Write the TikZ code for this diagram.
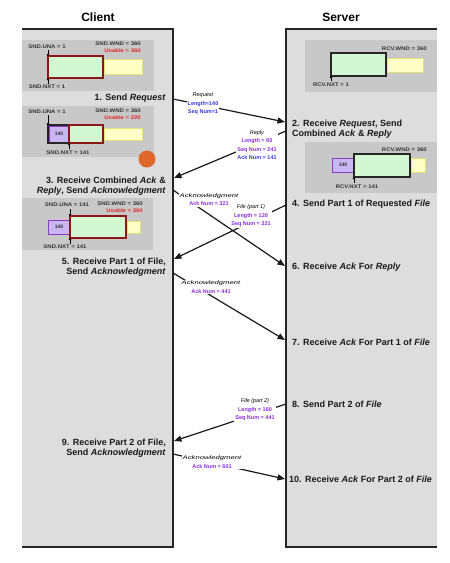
\documentclass[tikz,border=0pt]{standalone}
\usepackage{fontspec}
\setmainfont{Liberation Sans}
\newfontfamily\widefont[FakeStretch=1.15]{Liberation Sans}
\newfontfamily\widerfont[FakeStretch=1.45]{Liberation Sans}
\usetikzlibrary{arrows.meta}
\definecolor{panel}{HTML}{DDDDDD}
\definecolor{wingray}{HTML}{C8C8C8}
\definecolor{wgreen}{HTML}{D2F7D2}
\definecolor{wyellow}{HTML}{FFFFC6}
\definecolor{wyellowb}{HTML}{E2E27A}
\definecolor{wpurple}{HTML}{C9B6F2}
\definecolor{wpurpleb}{HTML}{8A3CC8}
\definecolor{wred}{HTML}{8C1616}
\definecolor{usable}{HTML}{E02424}
\definecolor{msgblue}{HTML}{3838DC}
\definecolor{msgpurple}{HTML}{8C2CE0}
\definecolor{cursor}{HTML}{E0672C}
\tikzset{
  panelline/.style={line width=1.6pt, black!85},
  greenbox/.style={fill=wgreen, draw=wred, line width=1.6pt},
  greenboxk/.style={fill=wgreen, draw=black!85, line width=1.6pt},
  blackbox/.style={draw=black!85, line width=1.6pt},
  yellowbox/.style={fill=wyellow, draw=wyellowb, line width=0.6pt},
  purplebox/.style={fill=wpurple, draw=wpurpleb, line width=1pt},
  winlbl/.style={font=\widefont\fontsize{5.2}{6}\selectfont\bfseries, text=black!80, inner sep=0pt},
  uslbl/.style={winlbl, text=usable},
  numlbl/.style={font=\fontsize{5}{6}\selectfont\bfseries, text=black!80, inner sep=0pt},
  titlelbl/.style={font=\fontsize{12}{14}\selectfont\bfseries, inner sep=0pt},
  steplbl/.style={font=\fontsize{9}{10}\selectfont\bfseries, inner sep=0pt, text=black!90},
  csteplbl/.style={steplbl, anchor=east, align=right},
  ssteplbl/.style={steplbl, anchor=west, align=left},
  msglbl/.style={font=\fontsize{5.5}{8.5}\selectfont, fill=white, inner sep=1pt, align=center},
  msg/.style={line width=1.2pt, black!90, -{Triangle[length=7.5pt,width=6pt]}},
  ptr/.style={line width=0.6pt, -{Triangle[length=2pt,width=2.6pt]}},
}
\newcommand{\ackword}{{\widerfont\fontsize{5.3}{8.5}\selectfont\itshape Acknowledgment}}
\begin{document}
\begin{tikzpicture}[x=1pt,y=-1pt]
\useasboundingbox[fill=white] (0,0) rectangle (450,563);
% titles
\node[titlelbl] (tclient) at (98,17) {Client};
\node[titlelbl] (tserver) at (341,17) {Server};
% panels
\fill[panel] (22,29) rectangle (173,547);
\fill[panel] (286,29) rectangle (437,547);
\draw[panelline] (22,29) -- (173,29) -- (173,547) -- (22,547);
\draw[panelline] (437,29) -- (286,29) -- (286,547) -- (437,547);

% ---------- client window 1
\fill[wingray] (22,40) rectangle (154,91);
\node[winlbl] (una1) at (47,47) {SND.UNA = 1};
\node[winlbl, anchor=east] (wnd1) at (141,44) {SND.WND = 360};
\node[uslbl, anchor=east] (us1) at (141,51) {Usable = 360};
\draw[greenbox] (48,56) rectangle (103,78);
\draw[yellowbox] (104.5,59) rectangle (142,74);
\draw[ptr] (48,50) -- (48,56);
\draw[ptr] (48,84) -- (48,78);
\node[winlbl] (nxt1) at (47,87) {SND.NXT = 1};

% ---------- client window 2
\fill[wingray] (22,106) rectangle (154,157);
\node[winlbl] (una2) at (47,112) {SND.UNA = 1};
\node[winlbl, anchor=east] (wnd2) at (141,111) {SND.WND = 360};
\node[uslbl, anchor=east] (us2) at (141,118) {Usable = 220};
\draw[purplebox] (49,126) rectangle (69,142);
\node[numlbl] (n2) at (59,134) {140};
\draw[blackbox] (48,125) rectangle (69,143);
\draw[greenbox] (69,125) rectangle (103,143);
\draw[yellowbox] (104.5,128) rectangle (142,140);
\draw[ptr] (48,115) -- (48,125);
\draw[ptr] (69,149) -- (69,143);
\node[winlbl] (nxt2) at (68,153) {SND.NXT = 141};

% ---------- client window 3
\fill[wingray] (22,198) rectangle (153,250);
\node[winlbl] (una3) at (67,205) {SND.UNA = 141};
\node[winlbl, anchor=east] (wnd3) at (143,204) {SND.WND = 360};
\node[uslbl, anchor=east] (us3) at (143,211) {Usable = 360};
\draw[purplebox] (48,220) rectangle (70,234);
\node[numlbl] (n3) at (59,227) {140};
\draw[greenbox] (70,216) rectangle (126,238);
\draw[yellowbox] (127,221) rectangle (140,233);
\draw[ptr] (70,209) -- (70,216);
\draw[ptr] (70,244) -- (70,238);
\node[winlbl] (nxt3) at (65,247) {SND.NXT = 141};

% ---------- server window 1
\fill[wingray] (305,40) rectangle (437,92);
\node[winlbl, anchor=east] (rwnd1) at (427,49) {RCV.WND = 360};
\draw[greenboxk] (331,53) rectangle (386,76);
\draw[yellowbox] (387,58) rectangle (423,72);
\draw[ptr] (331,81) -- (331,76);
\node[winlbl] (rnxt1) at (331,85) {RCV.NXT = 1};

% ---------- server window 2
\fill[wingray] (305,142) rectangle (437,193);
\node[winlbl, anchor=east] (rwnd2) at (427,150) {RCV.WND = 360};
\draw[purplebox] (332,158) rectangle (354,172);
\node[numlbl] (rn2) at (343,165) {140};
\draw[greenboxk] (354,154) rectangle (410,177);
\draw[yellowbox] (411,158) rectangle (425,172);
\draw[ptr] (354,183) -- (354,177);
\node[winlbl] (rnxt2) at (357,187) {RCV.NXT = 141};

% cursor highlight
\fill[cursor] (147,159) circle (8.5);

% ---------- step labels
\node[csteplbl] (st1) at (166,98) {1. Send \textit{Request}};
\node[csteplbl] (st3) at (166,186) {3. Receive Combined \textit{Ack} \&\\\textit{Reply}, Send \textit{Acknowledgment}};
\node[csteplbl] (st5) at (166,267) {5. Receive Part 1 of File,\\Send \textit{Acknowledgment}};
\node[csteplbl] (st9) at (166,448) {9. Receive Part 2 of File,\\Send \textit{Acknowledgment}};
\node[ssteplbl] (st2) at (292,129) {2. Receive \textit{Request}, Send\\Combined \textit{Ack} \& \textit{Reply}};
\node[ssteplbl] (st4) at (292,204) {4. Send Part 1 of Requested \textit{File}};
\node[ssteplbl] (st6) at (292,267) {6. Receive \textit{Ack} For \textit{Reply}};
\node[ssteplbl] (st7) at (292,342) {7. Receive \textit{Ack} For Part 1 of \textit{File}};
\node[ssteplbl] (st8) at (292,404) {8. Send Part 2 of \textit{File}};
\node[ssteplbl] (st10) at (289,479) {10. Receive \textit{Ack} For Part 2 of \textit{File}};

% ---------- message end points
\coordinate (c1) at (173,99);  \coordinate (s1) at (285,122);
\coordinate (s2) at (286,131); \coordinate (c2) at (174,178);
\coordinate (c3) at (173,190); \coordinate (s3) at (285,266);
\coordinate (s4) at (286,205); \coordinate (c4) at (174,259);
\coordinate (c5) at (173,273); \coordinate (s5) at (285,340);
\coordinate (s6) at (286,404); \coordinate (c6) at (174,441);
\coordinate (c7) at (173,454); \coordinate (s7) at (285,479);

\draw[msg] (c1) -- (s1);
\draw[msg] (s2) -- (c2);
\draw[msg] (c3) -- (s3);
\draw[msg] (s4) -- (c4);
\draw[msg] (c5) -- (s5);
\draw[msg] (s6) -- (c6);
\draw[msg] (c7) -- (s7);

% ---------- message labels
\node[msglbl] (L1) at (203,104) {\textit{Request}\\\textcolor{msgblue}{\textbf{Length=140}}\\\textcolor{msgblue}{\textbf{Seq Num=1}}};
\node[msglbl] (L2) at (257,145) {\textit{Reply}\\\textcolor{msgpurple}{\textbf{Length = 80}}\\\textcolor{msgpurple}{\textbf{Seq Num = 241}}\\\textcolor{msgblue}{\textbf{Ack Num = 141}}};
\node[msglbl] (L3) at (209,199.5) {\ackword\\\textcolor{msgpurple}{\textbf{Ack Num = 321}}};
\node[msglbl] (L4) at (251,216) {\textit{File (part 1)}\\\textcolor{msgpurple}{\textbf{Length = 120}}\\\textcolor{msgpurple}{\textbf{Seq Num = 321}}};
\node[msglbl] (L5) at (211,287) {\ackword\\\textcolor{msgpurple}{\textbf{Ack Num = 441}}};
\node[msglbl] (L6) at (255,410) {\textit{File (part 2)}\\\textcolor{msgpurple}{\textbf{Length = 160}}\\\textcolor{msgpurple}{\textbf{Seq Num = 441}}};
\node[msglbl] (L7) at (212,462) {\ackword\\\textcolor{msgpurple}{\textbf{Ack Num = 601}}};
\end{tikzpicture}
\end{document}
